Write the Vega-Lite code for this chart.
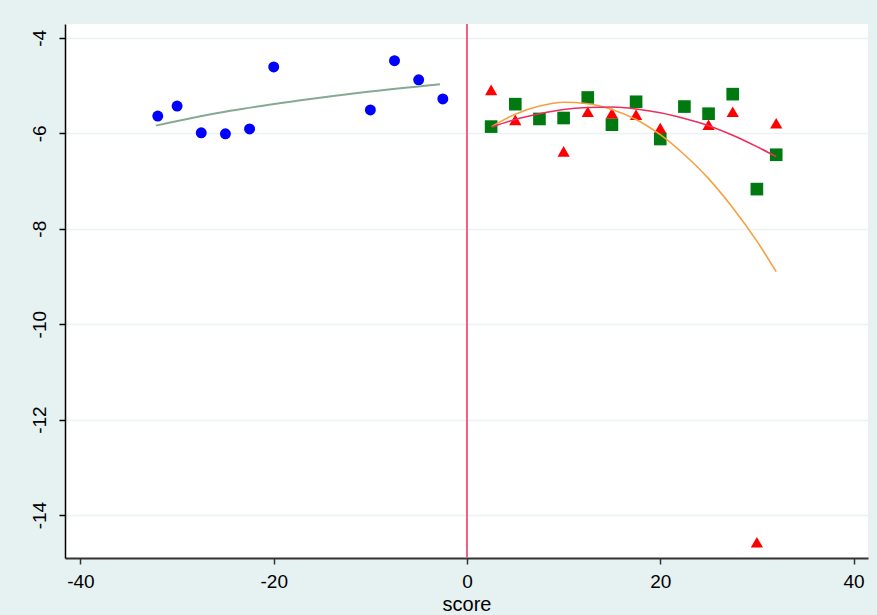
{
  "$schema": "https://vega.github.io/schema/vega-lite/v6.json",
  "width": 803,
  "height": 534,
  "autosize": {"type": "none"},
  "padding": {"left": 65, "top": 24, "right": 9, "bottom": 57},
  "background": "#e6f1f2",
  "config": {
    "view": {"stroke": null, "fill": "#ffffff"},
    "font": "Liberation Sans"
  },
  "datasets": {
    "blue": [
      {"score": -32, "y": -5.64}, {"score": -30, "y": -5.43}, {"score": -27.5, "y": -5.99},
      {"score": -25, "y": -6.01}, {"score": -22.5, "y": -5.91}, {"score": -20, "y": -4.61},
      {"score": -10, "y": -5.51}, {"score": -7.5, "y": -4.48}, {"score": -5, "y": -4.88},
      {"score": -2.5, "y": -5.28}
    ],
    "green": [
      {"score": 2.5, "y": -5.86}, {"score": 5, "y": -5.39}, {"score": 7.5, "y": -5.70},
      {"score": 10, "y": -5.68}, {"score": 12.5, "y": -5.25}, {"score": 15, "y": -5.82},
      {"score": 17.5, "y": -5.34}, {"score": 20, "y": -6.12}, {"score": 22.5, "y": -5.44},
      {"score": 25, "y": -5.59}, {"score": 27.5, "y": -5.18}, {"score": 30, "y": -7.17},
      {"score": 32, "y": -6.45}
    ],
    "red": [
      {"score": 2.5, "y": -5.09}, {"score": 5, "y": -5.72}, {"score": 10, "y": -6.38},
      {"score": 12.5, "y": -5.55}, {"score": 15, "y": -5.58}, {"score": 17.5, "y": -5.61},
      {"score": 20, "y": -5.89}, {"score": 25, "y": -5.82}, {"score": 27.5, "y": -5.55},
      {"score": 30, "y": -14.57}, {"score": 32, "y": -5.79}
    ],
    "fitLeft": [
      {"score": -32.2, "y": -5.84}, {"score": -24.5, "y": -5.53}, {"score": -17.6, "y": -5.32},
      {"score": -10.7, "y": -5.14}, {"score": -2.8, "y": -4.97}
    ],
    "fitRed": [
      {"score": 2.55, "y": -5.87}, {"score": 5, "y": -5.71}, {"score": 7.5, "y": -5.59},
      {"score": 10, "y": -5.50}, {"score": 12.5, "y": -5.46}, {"score": 15, "y": -5.45},
      {"score": 17.5, "y": -5.49}, {"score": 20, "y": -5.57}, {"score": 22.5, "y": -5.69},
      {"score": 25, "y": -5.84}, {"score": 27.5, "y": -6.04}, {"score": 30, "y": -6.28},
      {"score": 32, "y": -6.49}
    ],
    "fitOrange": [
      {"score": 2.55, "y": -5.86}, {"score": 5, "y": -5.60}, {"score": 7.5, "y": -5.43},
      {"score": 10, "y": -5.35}, {"score": 12.5, "y": -5.38}, {"score": 15, "y": -5.50},
      {"score": 17.5, "y": -5.71}, {"score": 20, "y": -6.03}, {"score": 22.5, "y": -6.45},
      {"score": 25, "y": -6.95}, {"score": 27.5, "y": -7.56}, {"score": 30, "y": -8.26},
      {"score": 32, "y": -8.90}
    ],
    "cut": [{"score": 0}]
  },
  "encoding": {
    "x": {
      "field": "score", "type": "quantitative",
      "scale": {"domain": [-41.6, 41.5], "nice": false, "zero": false},
      "axis": {
        "title": "score", "values": [-40, -20, 0, 20, 40], "grid": false,
        "labelExpr": "replace(datum.label, '−', '-')",
        "domainColor": "#333333", "domainWidth": 2, "tickColor": "#333333", "tickWidth": 1.5, "tickSize": 6,
        "labelFontSize": 19, "labelColor": "#000000", "labelPadding": 8,
        "titleFontSize": 20, "titleFontWeight": "normal", "titleColor": "#000000", "titlePadding": 3
      }
    },
    "y": {
      "field": "y", "type": "quantitative",
      "scale": {"domain": [-14.9, -3.71], "nice": false, "zero": false},
      "axis": {
        "title": null, "values": [-14, -12, -10, -8, -6, -4], "grid": true,
        "labelExpr": "replace(datum.label, '−', '-')",
        "gridColor": "#eaf2f4", "gridWidth": 1.5,
        "domainColor": "#000000", "domainWidth": 1.5, "tickColor": "#000000", "tickWidth": 1.5, "tickSize": 6,
        "labelFontSize": 19, "labelColor": "#000000", "labelAngle": -90,
        "labelAlign": "center", "labelBaseline": "alphabetic", "labelPadding": 14
      }
    }
  },
  "layer": [
    {
      "data": {"name": "cut"},
      "mark": {"type": "rule", "color": "#f06080", "strokeWidth": 2},
      "encoding": {"y": {"value": 0}, "y2": {"value": 534}}
    },
    {
      "data": {"name": "blue"},
      "mark": {"type": "point", "shape": "circle", "filled": true, "color": "#0000ff", "size": 120, "opacity": 1}
    },
    {
      "data": {"name": "green"},
      "mark": {"type": "point", "shape": "square", "filled": true, "color": "#007a10", "size": 160, "opacity": 1}
    },
    {
      "data": {"name": "red"},
      "mark": {"type": "point", "shape": "triangle-up", "filled": true, "color": "#ff0000", "size": 150, "opacity": 1}
    },
    {
      "data": {"name": "fitLeft"},
      "mark": {"type": "line", "color": "#86a996", "strokeWidth": 2, "interpolate": "monotone"}
    },
    {
      "data": {"name": "fitOrange"},
      "mark": {"type": "line", "color": "#f7a040", "strokeWidth": 1.6, "interpolate": "monotone"}
    },
    {
      "data": {"name": "fitRed"},
      "mark": {"type": "line", "color": "#ee2d5e", "strokeWidth": 1.6, "interpolate": "monotone"}
    }
  ]
}
